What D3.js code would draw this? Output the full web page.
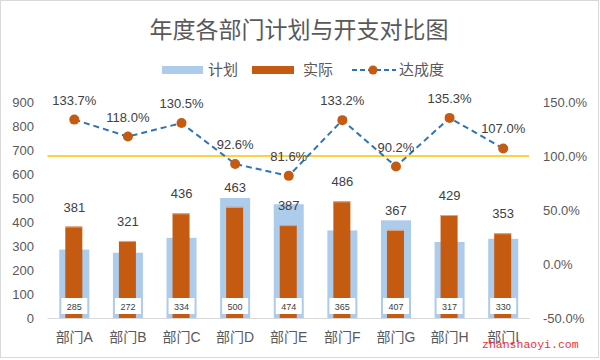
<!DOCTYPE html>
<html>
  <head>
  <meta charset="utf-8">
  <title>年度各部门计划与开支对比图</title>
  <style>
    body, html { margin: 0; padding: 0; background: #fff; }
    svg text { font-family: "Liberation Sans", "Noto Sans CJK SC", sans-serif; }
  </style>
  </head>
  <body>

  <svg id="svg" width="600" height="360"></svg>

  <script src="https://d3js.org/d3.v7.min.js"></script>
  <script>
        const departments = ['部门A', '部门B', '部门C', '部门D', '部门E', '部门F', '部门G', '部门H', '部门I']
        const plan = [285, 272, 334, 500, 474, 365, 407, 317, 330]
        const actual = [381, 321, 436, 463, 387, 486, 367, 429, 353]
        const rate = [133.7, 118.0, 130.5, 92.6, 81.6, 133.2, 90.2, 135.3, 107.0]
        const leftTicks = [0, 100, 200, 300, 400, 500, 600, 700, 800, 900]
        const rightTicks = [-50, 0, 50, 100, 150]
        const target = 100

        const svg = d3.select('#svg')
        const labelColor = '#595959'

        svg.append('rect')
            .attr('x', 0.5).attr('y', 0.5)
            .attr('width', 598).attr('height', 357)
            .attr('fill', '#fff')
            .attr('stroke', '#d9d9d9')

        const xscale = d3.scaleBand()
            .domain(departments)
            .range([47.5, 530])
        const yscale = d3.scaleLinear()
            .domain([0, 900])
            .range([318, 102])
        const rscale = d3.scaleLinear()
            .domain([-50, 150])
            .range([318, 102])

        // title
        svg.append('text')
            .attr('x', 299).attr('y', 38)
            .attr('text-anchor', 'middle')
            .attr('font-size', 23)
            .attr('fill', labelColor)
            .text('年度各部门计划与开支对比图')

        // legend
        const lg = svg.append('g')
        lg.append('rect').attr('x', 162).attr('y', 66).attr('width', 41).attr('height', 8).attr('fill', '#adcbea')
        lg.append('text').attr('x', 208).attr('y', 75).attr('font-size', 15).attr('fill', labelColor).text('计划')
        lg.append('rect').attr('x', 252).attr('y', 66).attr('width', 42).attr('height', 8).attr('fill', '#c55a11')
        lg.append('text').attr('x', 303).attr('y', 75).attr('font-size', 15).attr('fill', labelColor).text('实际')
        lg.append('line').attr('x1', 352).attr('x2', 396).attr('y1', 70).attr('y2', 70)
            .attr('stroke', '#2e75b6').attr('stroke-width', 2).attr('stroke-dasharray', '5,3')
        lg.append('circle').attr('cx', 373).attr('cy', 70).attr('r', 4.5).attr('fill', '#c55a11')
        lg.append('text').attr('x', 399).attr('y', 75).attr('font-size', 15).attr('fill', labelColor).text('达成度')

        // left axis
        svg.append('g')
            .attr('transform', 'translate(34,0)')
            .call(d3.axisLeft(yscale).tickValues(leftTicks).tickSize(0).tickPadding(0))
            .call(g => g.select('.domain').remove())
            .selectAll('text')
            .attr('font-size', 13)
            .attr('fill', labelColor)

        // right axis
        svg.append('g')
            .attr('transform', 'translate(543,0)')
            .call(d3.axisRight(rscale).tickValues(rightTicks).tickSize(0).tickPadding(0)
                .tickFormat(d => d.toFixed(1) + '%'))
            .call(g => g.select('.domain').remove())
            .selectAll('text')
            .attr('font-size', 13)
            .attr('fill', labelColor)

        // plan bars
        const bw = xscale.bandwidth()
        const cx = d => xscale(d) + bw / 2
        svg.append('g').selectAll('rect')
            .data(departments)
            .join('rect')
            .attr('x', d => cx(d) - 15)
            .attr('width', 30)
            .attr('y', (d, i) => yscale(plan[i]))
            .attr('height', (d, i) => yscale(0) - yscale(plan[i]))
            .attr('fill', '#adcbea')

        // actual bars
        svg.append('g').selectAll('rect')
            .data(departments)
            .join('rect')
            .attr('x', d => cx(d) - 9)
            .attr('width', 17)
            .attr('y', (d, i) => yscale(actual[i]))
            .attr('height', (d, i) => yscale(0) - yscale(actual[i]))
            .attr('fill', '#c55a11')
        svg.append('g').selectAll('line')
            .data(departments)
            .join('line')
            .attr('x1', d => cx(d) - 9)
            .attr('x2', d => cx(d) + 8)
            .attr('y1', (d, i) => yscale(actual[i]) + 0.5)
            .attr('y2', (d, i) => yscale(actual[i]) + 0.5)
            .attr('stroke', '#e8a67a')
            .attr('stroke-width', 1)

        // x axis line
        svg.append('line')
            .attr('x1', 47.5).attr('x2', 530)
            .attr('y1', 318.5).attr('y2', 318.5)
            .attr('stroke', '#d9d9d9')

        // x labels
        svg.append('g').selectAll('text')
            .data(departments)
            .join('text')
            .attr('x', d => cx(d))
            .attr('y', 342)
            .attr('text-anchor', 'middle')
            .attr('font-size', 14)
            .attr('fill', labelColor)
            .text(d => d)

        // actual labels
        svg.append('g').selectAll('text')
            .data(departments)
            .join('text')
            .attr('x', d => cx(d))
            .attr('y', (d, i) => yscale(actual[i]) - 15)
            .attr('text-anchor', 'middle')
            .attr('font-size', 13)
            .attr('fill', '#404040')
            .text((d, i) => actual[i])

        // plan label boxes
        const pl = svg.append('g').selectAll('g')
            .data(departments)
            .join('g')
        pl.append('rect')
            .attr('x', d => cx(d) - 13)
            .attr('y', 298)
            .attr('width', 26)
            .attr('height', 16)
            .attr('fill', '#fff')
        pl.append('text')
            .attr('x', d => cx(d))
            .attr('y', 309.5)
            .attr('text-anchor', 'middle')
            .attr('font-size', 9)
            .attr('fill', '#404040')
            .text((d, i) => plan[i])

        // target line
        svg.append('line')
            .attr('x1', 47.5).attr('x2', 529)
            .attr('y1', rscale(target)).attr('y2', rscale(target))
            .attr('stroke', '#ffc000')
            .attr('stroke-width', 1.3)

        // rate line
        const linegen = d3.line()
            .x((d, i) => cx(departments[i]))
            .y(d => rscale(d))
        svg.append('path')
            .attr('d', linegen(rate))
            .attr('fill', 'none')
            .attr('stroke', '#2e75b6')
            .attr('stroke-width', 2)
            .attr('stroke-dasharray', '6,4')
        svg.append('g').selectAll('circle')
            .data(rate)
            .join('circle')
            .attr('cx', (d, i) => cx(departments[i]))
            .attr('cy', d => rscale(d))
            .attr('r', 5)
            .attr('fill', '#c55a11')
        svg.append('g').selectAll('text')
            .data(rate)
            .join('text')
            .attr('x', (d, i) => cx(departments[i]))
            .attr('y', d => rscale(d) - 15)
            .attr('text-anchor', 'middle')
            .attr('font-size', 13)
            .attr('fill', '#404040')
            .text(d => d.toFixed(1) + '%')

        // watermark
        svg.append('text')
            .attr('x', 482).attr('y', 348)
            .attr('font-size', 11.5)
            .attr('fill', '#e8333a')
            .style('font-family', '"Liberation Mono", monospace')
            .text('zhanshaoyi.com')
  </script>
  </body>
</html>
